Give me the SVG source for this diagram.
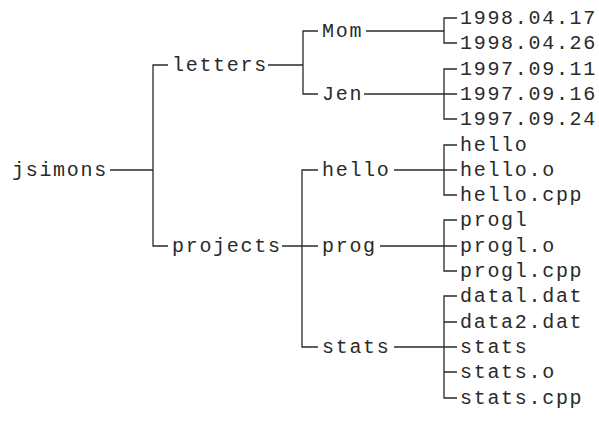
<svg xmlns="http://www.w3.org/2000/svg" width="599" height="422" viewBox="0 0 599 422">
  <style>
    text { font-family: "Liberation Mono", "Courier New", monospace; font-size: 20px; letter-spacing: 1.7px; fill: #2a2a2a; }
    .link { fill: none; stroke: #2a2a2a; stroke-width: 1.3; }
  </style>
  <rect width="599" height="422" fill="#ffffff"/>

  <!-- tree connectors -->
  <g id="connectors">
    <path class="link" d="M110,170 H153"/>
    <path class="link" d="M168,65 H153 V246 H168"/>
    <path class="link" d="M268,65 H303"/>
    <path class="link" d="M318,31 H303 V94 H318"/>
    <path class="link" d="M366,31 H444"/>
    <path class="link" d="M457,18 H444 V43 H457"/>
    <path class="link" d="M364,94 H457"/>
    <path class="link" d="M457,69 H444 V119 H457"/>
    <path class="link" d="M282,246 H318"/>
    <path class="link" d="M318,170 H302 V347 H318"/>
    <path class="link" d="M394,170 H457"/>
    <path class="link" d="M457,145 H444 V195 H457"/>
    <path class="link" d="M380,246 H457"/>
    <path class="link" d="M457,220 H444 V271 H457"/>
    <path class="link" d="M394,347 H457"/>
    <path class="link" d="M457,296 H444 V398 H457"/>
    <path class="link" d="M444,322 H457 M444,372 H457"/>
  </g>

  <!-- root -->
  <g id="jsimons"><text x="12" y="176">jsimons</text></g>

  <!-- level 1 -->
  <g id="letters"><text x="172" y="71">letters</text></g>
  <g id="projects"><text x="172" y="252">projects</text></g>

  <!-- level 2 -->
  <g id="mom"><text x="322" y="37">Mom</text></g>
  <g id="jen"><text x="322" y="100">Jen</text></g>
  <g id="hello-dir"><text x="322" y="176">hello</text></g>
  <g id="prog"><text x="322" y="252">prog</text></g>
  <g id="stats-dir"><text x="322" y="353">stats</text></g>

  <!-- files -->
  <g id="f-1998-04-17"><text x="460" y="24">1998.04.17</text></g>
  <g id="f-1998-04-26"><text x="460" y="49">1998.04.26</text></g>
  <g id="f-1997-09-11"><text x="460" y="75">1997.09.11</text></g>
  <g id="f-1997-09-16"><text x="460" y="100">1997.09.16</text></g>
  <g id="f-1997-09-24"><text x="460" y="125">1997.09.24</text></g>
  <g id="f-hello"><text x="460" y="151">hello</text></g>
  <g id="f-hello-o"><text x="460" y="176">hello.o</text></g>
  <g id="f-hello-cpp"><text x="460" y="201">hello.cpp</text></g>
  <g id="f-progl"><text x="460" y="226">progl</text></g>
  <g id="f-progl-o"><text x="460" y="252">progl.o</text></g>
  <g id="f-progl-cpp"><text x="460" y="277">progl.cpp</text></g>
  <g id="f-datal"><text x="460" y="302">datal.dat</text></g>
  <g id="f-data2"><text x="460" y="328">data2.dat</text></g>
  <g id="f-stats"><text x="460" y="353">stats</text></g>
  <g id="f-stats-o"><text x="460" y="378">stats.o</text></g>
  <g id="f-stats-cpp"><text x="460" y="404">stats.cpp</text></g>
</svg>
